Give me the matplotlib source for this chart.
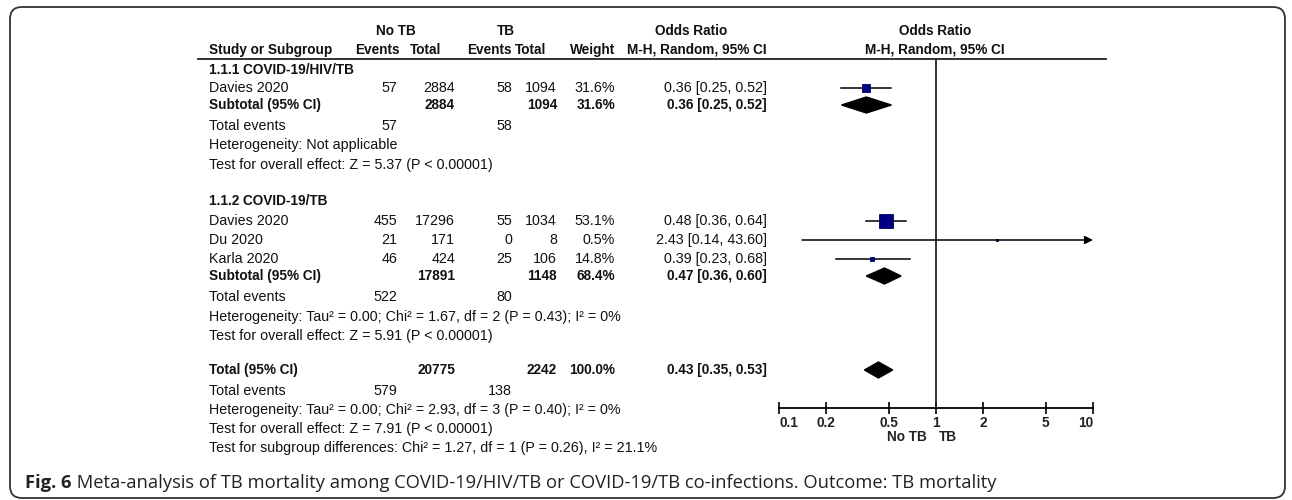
import matplotlib
matplotlib.use("Agg")
import matplotlib.pyplot as plt
from matplotlib.patches import FancyBboxPatch, Polygon

plt.rcParams['font.family'] = ['Liberation Sans', 'DejaVu Sans']

# study rows
studies = ["Davies 2020", "Davies 2020", "Du 2020", "Karla 2020"]
study_group = [0, 1, 1, 1]
ev_notb = [57, 455, 21, 46]
tot_notb = [2884, 17296, 171, 424]
ev_tb = [58, 55, 0, 25]
tot_tb = [1094, 1034, 8, 106]
weights = [31.6, 53.1, 0.5, 14.8]
or_est = [0.36, 0.48, 2.43, 0.39]
or_lo = [0.25, 0.36, 0.14, 0.23]
or_hi = [0.52, 0.64, 43.60, 0.68]

# subgroups
groups = ["1.1.1 COVID-19/HIV/TB", "1.1.2 COVID-19/TB"]
sub_tot_notb = [2884, 17891]
sub_tot_tb = [1094, 1148]
sub_weight = [31.6, 68.4]
sub_est = [0.36, 0.47]
sub_lo = [0.25, 0.36]
sub_hi = [0.52, 0.60]
sub_ev_notb = [57, 522]
sub_ev_tb = [58, 80]
sub_het = ["Heterogeneity: Not applicable",
           "Heterogeneity: Tau\u00b2 = 0.00; Chi\u00b2 = 1.67, df = 2 (P = 0.43); I\u00b2 = 0%"]
sub_test = ["Test for overall effect: Z = 5.37 (P < 0.00001)",
            "Test for overall effect: Z = 5.91 (P < 0.00001)"]

# overall
total_notb = 20775
total_tb = 2242
total_weight = 100.0
total_est, total_lo, total_hi = 0.43, 0.35, 0.53
total_ev_notb = 579
total_ev_tb = 138
total_notes = ["Heterogeneity: Tau\u00b2 = 0.00; Chi\u00b2 = 2.93, df = 3 (P = 0.40); I\u00b2 = 0%",
               "Test for overall effect: Z = 7.91 (P < 0.00001)",
               "Test for subgroup differences: Chi\u00b2 = 1.27, df = 1 (P = 0.26), I\u00b2 = 21.1%"]

ticks = [0.1, 0.2, 0.5, 1, 2, 5, 10]
tick_labels = ["0.1", "0.2", "0.5", "1", "2", "5", "10"]

# layout (pixels)
W, H = 1292, 500
x_lab = 209
x_ev1, x_tot1, x_ev2, x_tot2, x_w, x_or = 397, 455, 512, 557, 615, 767
ax_left, ax_right, ax_y, line_y = 779, 1093, 408, 59

fig = plt.figure(figsize=(W / 100, H / 100), dpi=100)
ax = fig.add_axes([0, 0, 1, 1])
ax.set_xlim(0, W)
ax.set_ylim(H, 0)
ax.axis('off')

fx = fig.add_axes([ax_left / W, (H - ax_y) / H, (ax_right - ax_left) / W, (ax_y - line_y) / H])
fx.set_xscale('log')
fx.set_xlim(0.1, 10)
fx.set_ylim(ax_y, line_y)
fx.patch.set_alpha(0)
for s in ['top', 'left', 'right']:
    fx.spines[s].set_visible(False)
fx.spines['bottom'].set_linewidth(1.3)
fx.set_yticks([])
fx.set_xticks(ticks)
fx.set_xticklabels(tick_labels, fontsize=9.8, fontweight='bold', color='#222222')
fx.minorticks_off()
fx.tick_params(axis='x', direction='inout', length=8, width=1.2, pad=2)
fx.get_xticklabels()[0].set_ha('left')
fx.get_xticklabels()[-1].set_ha('right')
fx.axvline(1, color='#222222', lw=1.3)

FS = 10.3
FB = 9.8


def txt(x, y, s, ha='left', bold=False):
    ax.text(x, y, s, ha=ha, va='center', fontsize=FB if bold else FS,
            fontweight='bold' if bold else 'normal', color='#111111')


def diamond(y, lo, est, hi, h=8):
    fx.add_patch(Polygon([(lo, y), (est, y - h), (hi, y), (est, y + h)],
                         closed=True, color='black', clip_on=False))


# box and header
ax.add_patch(FancyBboxPatch((10, 7), 1275, 491, boxstyle="round,pad=0,rounding_size=12",
                            fill=False, ec='#333333', lw=1.3))
txt(396, 31, "No TB", ha='center', bold=True)
txt(515, 31, "TB", ha='right', bold=True)
txt(691, 31, "Odds Ratio", ha='center', bold=True)
txt(935, 31, "Odds Ratio", ha='center', bold=True)
txt(x_lab, 50, "Study or Subgroup", bold=True)
txt(400, 50, "Events", ha='right', bold=True)
txt(441, 50, "Total", ha='right', bold=True)
txt(512, 50, "Events", ha='right', bold=True)
txt(546, 50, "Total", ha='right', bold=True)
txt(615, 50, "Weight", ha='right', bold=True)
txt(767, 50, "M-H, Random, 95% CI", ha='right', bold=True)
txt(935, 50, "M-H, Random, 95% CI", ha='center', bold=True)
ax.plot([198, 1106], [line_y, line_y], color='#222222', lw=1.3)

group_top = [70, 201]
study_y = [88, 221, 240, 259]
for g in range(len(groups)):
    y0 = group_top[g]
    txt(x_lab, y0, groups[g], bold=True)
    idx = [i for i in range(len(studies)) if study_group[i] == g]
    for i in idx:
        y = study_y[i]
        txt(x_lab, y, studies[i])
        txt(x_ev1, y, str(ev_notb[i]), ha='right')
        txt(x_tot1, y, str(tot_notb[i]), ha='right')
        txt(x_ev2, y, str(ev_tb[i]), ha='right')
        txt(x_tot2, y, str(tot_tb[i]), ha='right')
        txt(x_w, y, "%.1f%%" % weights[i], ha='right')
        txt(x_or, y, "%.2f [%.2f, %.2f]" % (or_est[i], or_lo[i], or_hi[i]), ha='right')
        if or_hi[i] > 10:
            fx.annotate('', xy=(10, y), xytext=(or_lo[i], y), annotation_clip=False,
                        arrowprops=dict(arrowstyle='-|>', color='black', lw=1.1,
                                        mutation_scale=12, shrinkA=0, shrinkB=0))
        else:
            fx.plot([or_lo[i], or_hi[i]], [y, y], color='black', lw=1.1, clip_on=False)
        side = max(0.245 * weights[i], 2.0) * 0.72
        fx.plot(or_est[i], y, marker='s', ms=side, mfc='#000080', mec='#000060',
                mew=0.6, clip_on=False)
    ys = study_y[idx[-1]] + 17
    txt(x_lab, ys, "Subtotal (95% CI)", bold=True)
    txt(x_tot1, ys, str(sub_tot_notb[g]), ha='right', bold=True)
    txt(x_tot2, ys, str(sub_tot_tb[g]), ha='right', bold=True)
    txt(x_w, ys, "%.1f%%" % sub_weight[g], ha='right', bold=True)
    txt(x_or, ys, "%.2f [%.2f, %.2f]" % (sub_est[g], sub_lo[g], sub_hi[g]), ha='right', bold=True)
    diamond(ys, sub_lo[g], sub_est[g], sub_hi[g])
    ye = ys + 21
    txt(x_lab, ye, "Total events")
    txt(x_ev1, ye, str(sub_ev_notb[g]), ha='right')
    txt(x_ev2, ye, str(sub_ev_tb[g]), ha='right')
    txt(x_lab, ye + 19.5, sub_het[g])
    txt(x_lab, ye + 39, sub_test[g])

yt = 370
txt(x_lab, yt, "Total (95% CI)", bold=True)
txt(x_tot1, yt, str(total_notb), ha='right', bold=True)
txt(x_tot2, yt, str(total_tb), ha='right', bold=True)
txt(x_w, yt, "%.1f%%" % total_weight, ha='right', bold=True)
txt(x_or, yt, "%.2f [%.2f, %.2f]" % (total_est, total_lo, total_hi), ha='right', bold=True)
diamond(yt, total_lo, total_est, total_hi)
txt(x_lab, yt + 21, "Total events")
txt(x_ev1, yt + 21, str(total_ev_notb), ha='right')
txt(x_ev2, yt + 21, str(total_ev_tb), ha='right')
for k, s in enumerate(total_notes):
    txt(x_lab, yt + 40 + 19 * k, s)

fx.text(0.875, 437, "No TB", ha='right', va='center', fontsize=9.8, fontweight='bold',
        color='#222222', clip_on=False)
fx.text(1.05, 437, "TB", ha='left', va='center', fontsize=9.8, fontweight='bold',
        color='#222222', clip_on=False)

# caption
t1 = ax.text(25, 483, "Fig. 6", ha='left', va='center', fontsize=13.2, fontweight='bold',
             family=['Open Sans', 'DejaVu Sans'], color='#222222')
ax.annotate(" Meta-analysis of TB mortality among COVID-19/HIV/TB or COVID-19/TB co-infections. "
            "Outcome: TB mortality", xy=(1, 0.5), xycoords=t1, ha='left', va='center',
            fontsize=13.2, family=['Open Sans', 'DejaVu Sans'], color='#222222')

fig.savefig("out.png", dpi=100)
